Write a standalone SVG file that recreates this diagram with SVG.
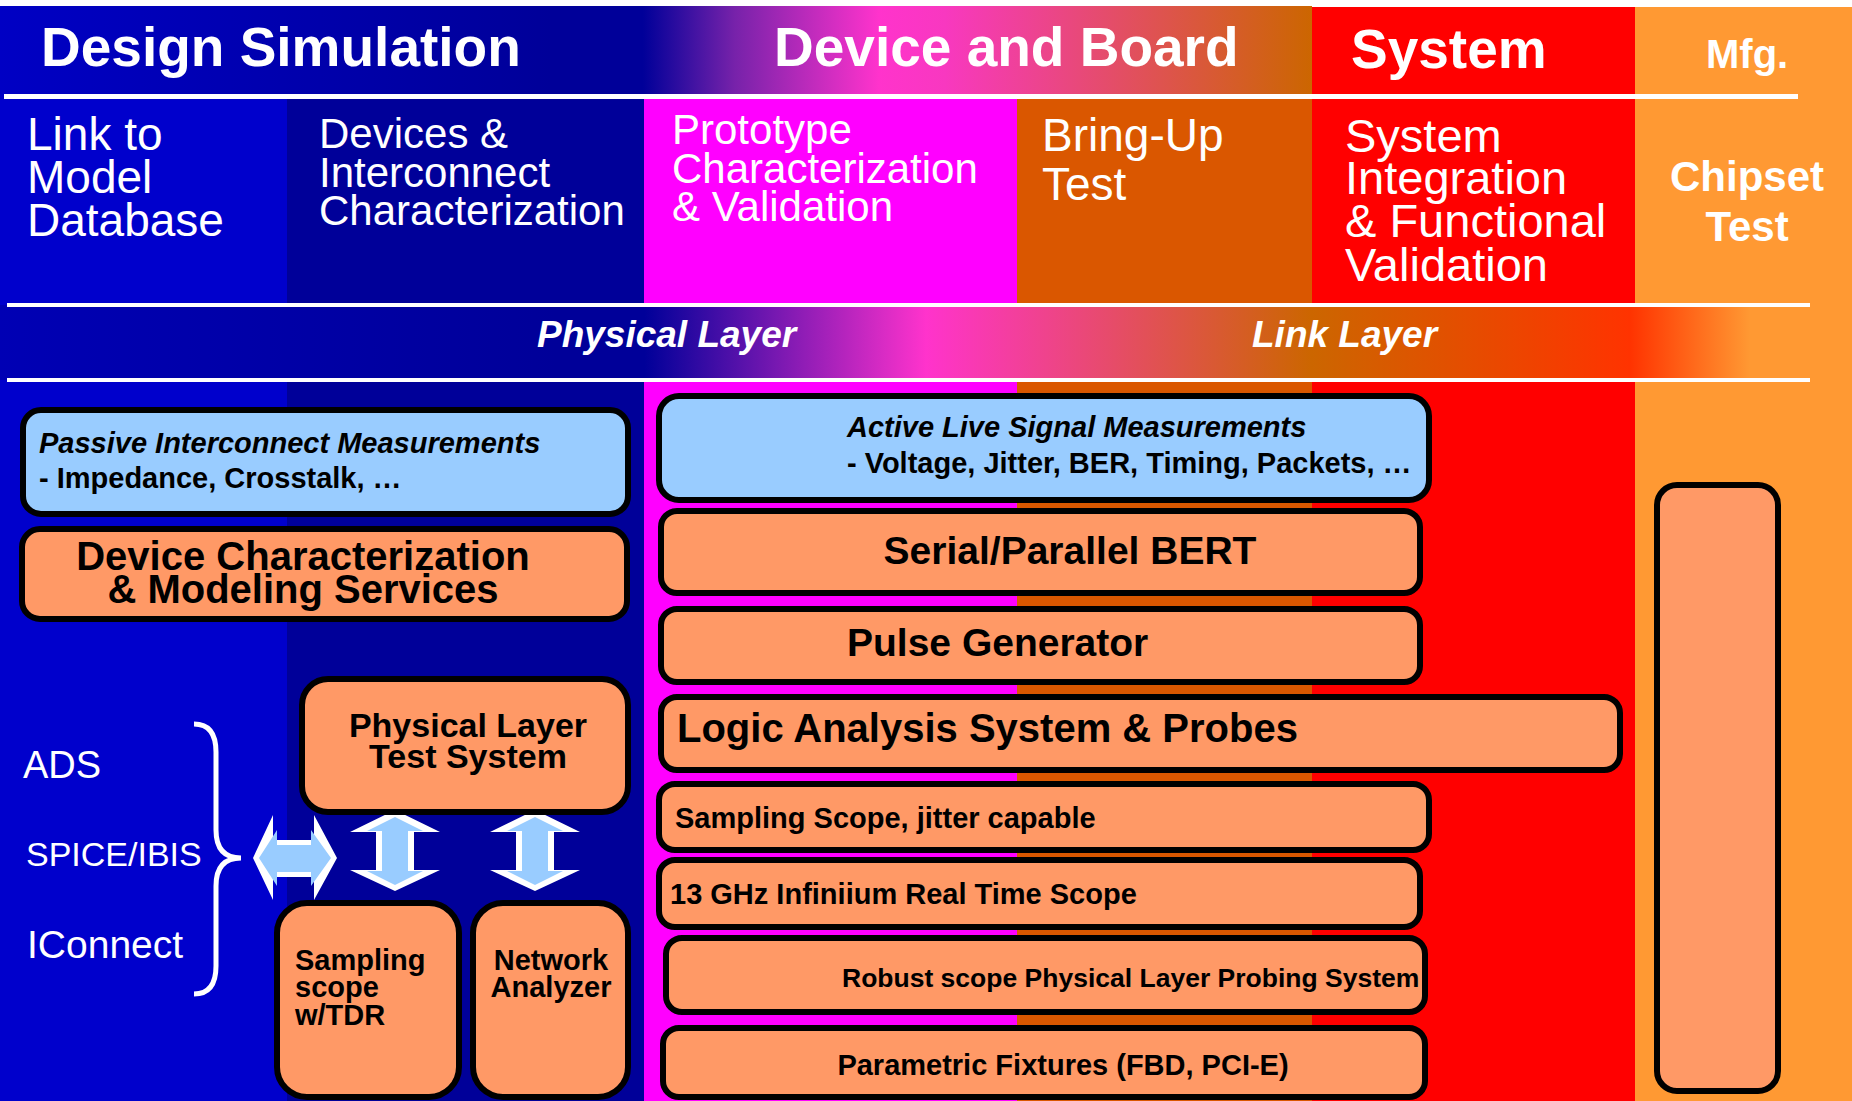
<svg xmlns="http://www.w3.org/2000/svg" width="1852" height="1101" viewBox="0 0 1852 1101">
<defs>
<linearGradient id="gHead" gradientUnits="userSpaceOnUse" x1="0" y1="0" x2="1312" y2="0">
<stop offset="0" stop-color="#0000C4"/>
<stop offset="0.42" stop-color="#000099"/>
<stop offset="0.49" stop-color="#000099"/>
<stop offset="0.56" stop-color="#7722AA"/>
<stop offset="0.67" stop-color="#FF33CC"/>
<stop offset="0.72" stop-color="#F838C0"/>
<stop offset="1" stop-color="#CC6600"/>
</linearGradient>
<linearGradient id="gBand" gradientUnits="userSpaceOnUse" x1="0" y1="0" x2="1852" y2="0">
<stop offset="0" stop-color="#0000B4"/>
<stop offset="0.30" stop-color="#000099"/>
<stop offset="0.348" stop-color="#000099"/>
<stop offset="0.50" stop-color="#FF33CC"/>
<stop offset="0.708" stop-color="#CC6600"/>
<stop offset="0.88" stop-color="#FF3300"/>
<stop offset="0.945" stop-color="#FF9933"/>
<stop offset="1" stop-color="#FF9933"/>
</linearGradient>
</defs>
<style>
.hb{font-family:"Liberation Sans",Arial,sans-serif;font-weight:bold;fill:#fff}
.hr{font-family:"Liberation Sans",Arial,sans-serif;fill:#fff}
.hi{font-family:"Liberation Sans",Arial,sans-serif;font-weight:bold;font-style:italic;fill:#fff}
.box{fill:#FF9966;stroke:#000;stroke-width:6}
.blu{fill:#99CCFF;stroke:#000;stroke-width:6}
.t{font-family:"Liberation Sans",Arial,sans-serif;font-weight:bold;fill:#000}
.ti{font-family:"Liberation Sans",Arial,sans-serif;font-weight:bold;font-style:italic;fill:#000}
.aw{fill:#fff}
.ab{fill:#99CCFF}
</style>
<rect x="0" y="0" width="1852" height="1101" fill="#fff"/>
<!-- header row -->
<rect x="0" y="6" width="1312" height="94" fill="url(#gHead)"/>
<rect x="1312" y="7" width="323" height="93" fill="#FF0000"/>
<rect x="1635" y="7" width="217" height="93" fill="#FF9933"/>
<!-- column backgrounds -->
<rect x="0" y="99" width="287" height="1002" fill="#0000CC"/>
<rect x="287" y="99" width="357" height="1002" fill="#000099"/>
<rect x="644" y="99" width="373" height="1002" fill="#FF00FF"/>
<rect x="1017" y="99" width="295" height="1002" fill="#DA5700"/>
<rect x="1312" y="99" width="323" height="1002" fill="#FF0000"/>
<rect x="1635" y="99" width="217" height="1002" fill="#FF9933"/>
<!-- layer band -->
<rect x="0" y="305" width="1852" height="75" fill="url(#gBand)"/>
<!-- white rules -->
<rect x="4" y="94" width="1794" height="5" fill="#fff"/>
<rect x="7" y="303" width="1803" height="4" fill="#fff"/>
<rect x="7" y="378" width="1803" height="4" fill="#fff"/>

<g id="header">
<text class="hb" x="41" y="66" font-size="55">Design Simulation</text>
<text class="hb" x="774" y="66" font-size="55">Device and Board</text>
<text class="hb" x="1351" y="68" font-size="55">System</text>
<text class="hb" x="1706" y="68" font-size="40">Mfg.</text>
</g>
<g id="phases">
<text class="hr" x="27" font-size="46"><tspan x="27" y="150">Link to</tspan><tspan x="27" y="193">Model</tspan><tspan x="27" y="236">Database</tspan></text>
<text class="hr" x="319" font-size="42"><tspan x="319" y="148">Devices &amp;</tspan><tspan x="319" y="187">Interconnect</tspan><tspan x="319" y="225">Characterization</tspan></text>
<text class="hr" x="672" font-size="42"><tspan x="672" y="144">Prototype</tspan><tspan x="672" y="183">Characterization</tspan><tspan x="672" y="221">&amp; Validation</tspan></text>
<text class="hr" x="1042" font-size="46"><tspan x="1042" y="151">Bring-Up</tspan><tspan x="1042" y="200">Test</tspan></text>
<text class="hr" x="1345" font-size="47"><tspan x="1345" y="152">System</tspan><tspan x="1345" y="194">Integration</tspan><tspan x="1345" y="237">&amp; Functional</tspan><tspan x="1345" y="281">Validation</tspan></text>
<text class="hb" font-size="42" text-anchor="middle"><tspan x="1747" y="191">Chipset</tspan><tspan x="1747" y="241">Test</tspan></text>
</g>
<g id="layers">
<text class="hi" x="537" y="347" font-size="37">Physical Layer</text>
<text class="hi" x="1252" y="347" font-size="37">Link Layer</text>
</g>

<g id="tools">
<text class="hr" x="23" y="778" font-size="38">ADS</text>
<text class="hr" x="26" y="866" font-size="34">SPICE/IBIS</text>
<text class="hr" x="27" y="958" font-size="39">IConnect</text>
</g>

<g id="connectors">
<path d="M194 724 Q216 724 216 752 L216 830 Q216 858 241 858 Q216 858 216 886 L216 966 Q216 994 194 994" fill="none" stroke="#fff" stroke-width="5"/>
<polygon class="aw" points="253,858 273,815 273,840 314,840 314,815 337,858 314,900 314,877 273,877 273,900"/>
<polygon class="ab" points="259,858 277,830 277,845 311,845 311,830 331,858 311,886 311,872 277,872 277,886"/>
<polygon class="aw" points="395,810 440,832 414,832 414,870 440,870 395,891 350,870 376,870 376,832 350,832"/>
<polygon class="ab" points="395,817 423,831 408,831 408,871 423,871 395,885 367,871 382,871 382,831 367,831"/>
<polygon class="aw" points="535,810 580,832 554,832 554,870 580,870 535,891 490,870 516,870 516,832 490,832"/>
<polygon class="ab" points="535,817 563,831 548,831 548,871 563,871 535,885 507,871 522,871 522,831 507,831"/>
</g>

<g id="passive">
<rect class="blu" x="23" y="410" width="605" height="104" rx="18"/>
<text class="ti" x="39" y="453" font-size="29">Passive Interconnect Measurements</text>
<text class="t" x="39" y="488" font-size="29">- Impedance, Crosstalk, …</text>
</g>
<g id="device-char">
<rect class="box" x="22" y="529" width="605" height="90" rx="18"/>
<text class="t" font-size="40" text-anchor="middle"><tspan x="303" y="570">Device Characterization</tspan><tspan x="303" y="603">&amp; Modeling Services</tspan></text>
</g>
<g id="phy-test">
<rect class="box" x="302" y="679" width="326" height="133" rx="26"/>
<text class="t" font-size="34" text-anchor="middle"><tspan x="468" y="737">Physical Layer</tspan><tspan x="468" y="768">Test System</tspan></text>
</g>
<g id="sampling-tdr">
<rect class="box" x="277" y="903" width="182" height="194" rx="30"/>
<text class="t" font-size="29"><tspan x="295" y="970">Sampling</tspan><tspan x="295" y="997">scope</tspan><tspan x="295" y="1025">w/TDR</tspan></text>
</g>
<g id="network-analyzer">
<rect class="box" x="473" y="903" width="155" height="194" rx="30"/>
<text class="t" font-size="29" text-anchor="middle"><tspan x="551" y="970">Network</tspan><tspan x="551" y="997">Analyzer</tspan></text>
</g>

<g id="active">
<rect class="blu" x="659" y="396" width="770" height="104" rx="20"/>
<text class="ti" x="847" y="437" font-size="29">Active Live Signal Measurements</text>
<text class="t" x="847" y="473" font-size="29">- Voltage, Jitter, BER, Timing, Packets, …</text>
</g>
<g id="bert">
<rect class="box" x="661" y="511" width="759" height="82" rx="16"/>
<text class="t" x="1070" y="564" font-size="39" text-anchor="middle">Serial/Parallel BERT</text>
</g>
<g id="pulse">
<rect class="box" x="661" y="609" width="759" height="73" rx="16"/>
<text class="t" x="847" y="656" font-size="39">Pulse Generator</text>
</g>
<g id="logic">
<rect class="box" x="661" y="697" width="959" height="73" rx="16"/>
<text class="t" x="677" y="742" font-size="40">Logic Analysis System &amp; Probes</text>
</g>
<g id="sampling-scope">
<rect class="box" x="659" y="784" width="770" height="66" rx="16"/>
<text class="t" x="675" y="828" font-size="29">Sampling Scope, jitter capable</text>
</g>
<g id="infiniium">
<rect class="box" x="659" y="860" width="761" height="67" rx="16"/>
<text class="t" x="670" y="904" font-size="29">13 GHz Infiniium Real Time Scope</text>
</g>
<g id="robust">
<rect class="box" x="666" y="938" width="759" height="74" rx="16"/>
<text class="t" x="842" y="987" font-size="26.5">Robust scope Physical Layer Probing System</text>
</g>
<g id="parametric">
<rect class="box" x="663" y="1028" width="762" height="69" rx="16"/>
<text class="t" x="1063" y="1075" font-size="29" text-anchor="middle">Parametric Fixtures (FBD, PCI-E)</text>
</g>
<g id="mfg-box">
<rect class="box" x="1657" y="485" width="121" height="606" rx="20"/>
</g>
</svg>
